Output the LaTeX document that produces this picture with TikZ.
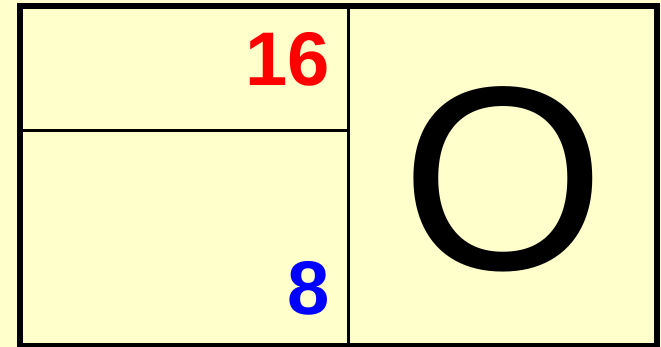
\documentclass[tikz,border=0pt]{standalone}
\usepackage{fontspec}
\setmainfont{Liberation Sans}
\definecolor{bgyellow}{HTML}{FFFFCC}
\definecolor{numred}{HTML}{FF0000}
\definecolor{numblue}{HTML}{0000FF}
\begin{document}
\begin{tikzpicture}[x=1pt,y=-1pt,
  num/.style={inner sep=0pt,anchor=base east,font=\fontsize{76}{76}\selectfont\bfseries},
  bigletter/.style={inner sep=0pt,anchor=base,font=\fontsize{262}{262}\selectfont}]
\fill[bgyellow] (0,0) rectangle (661,347);
\useasboundingbox (0,0) rectangle (661,347);
\coordinate (tl) at (20,6);
\coordinate (br) at (657,346);
\coordinate (mt) at (348.5,6);
\coordinate (mb) at (348.5,346);
\coordinate (hl) at (20,130.5);
\coordinate (hr) at (348.5,130.5);
\draw[line width=3pt] (mt) -- (mb);
\draw[line width=3pt] (hl) -- (hr);
\draw[line width=6pt] (tl) rectangle (br);
\node[num,text=numred] (n16) at (330,86) {16};
\node[num,text=numblue] (n8) at (330,314) {8};
\node[bigletter] (o) at (503.5,270) {O};
\end{tikzpicture}
\end{document}
